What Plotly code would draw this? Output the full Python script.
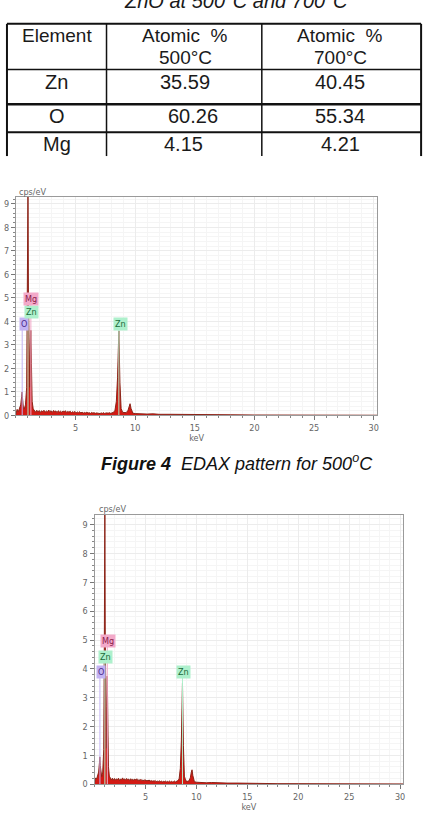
import plotly.graph_objects as go

W, H = 444, 828

def px(x):
    return x / W

def py(y):
    return 1 - y / H

# ---------------- data ----------------
table_title = "ZnO at 500<sup>o</sup>C and 700<sup>o</sup>C"
headers_top = ["Element", "Atomic  %", "Atomic  %"]
headers_bottom = ["", "500°C", "700°C"]
elements = ["Zn", "O", "Mg"]
atomic_500 = ["35.59", "60.26", "4.15"]
atomic_700 = ["40.45", "55.34", "4.21"]

energy_keV = [0.00, 0.10, 0.20, 0.30, 0.40, 0.48, 0.52, 0.56, 0.62, 0.70, 0.80, 0.90, 0.96, 1.01, 1.05,
              1.10, 1.16, 1.20, 1.25, 1.30, 1.36, 1.45, 1.55, 1.65, 1.75, 1.85, 1.95, 2.05, 2.15, 2.25,
              2.35, 2.45, 2.55, 2.65, 2.75, 2.85, 2.95, 3.05, 3.15, 3.25, 3.35, 3.45, 3.55, 3.65, 3.75,
              3.85, 3.95, 4.05, 4.15, 4.25, 4.35, 4.45, 4.55, 4.65, 4.75, 4.85, 4.95, 5.05, 5.15, 5.25,
              5.35, 5.45, 5.55, 5.65, 5.75, 5.85, 5.95, 6.05, 6.15, 6.25, 6.35, 6.45, 6.55, 6.65, 6.75,
              6.85, 6.95, 7.05, 7.15, 7.25, 7.35, 7.45, 7.55, 7.65, 7.75, 7.85, 7.95, 8.05, 8.15, 8.30,
              8.42, 8.52, 8.63, 8.72, 8.82, 8.95, 9.10, 9.25, 9.40, 9.50, 9.57, 9.65, 9.80, 10.0, 10.3,
              10.6, 11.0, 11.5, 12.0, 13.0, 14.0, 15.0, 16.0, 18.0, 20.0, 22.0, 25.0, 28.0, 30.3]

counts_500 = [0.05, 0.26, 0.16, 0.30, 0.45, 0.80, 1.00, 0.70, 0.35, 0.28, 0.45, 1.20, 5.00, 9.60, 5.00,
              1.40, 1.20, 2.60, 3.62, 2.20, 0.60, 0.28, 0.20, 0.14, 0.22, 0.15, 0.21, 0.13, 0.20, 0.16,
              0.22, 0.14, 0.19, 0.15, 0.23, 0.16, 0.20, 0.13, 0.21, 0.17, 0.19, 0.12, 0.20, 0.15, 0.18,
              0.13, 0.19, 0.16, 0.20, 0.13, 0.17, 0.14, 0.18, 0.12, 0.16, 0.13, 0.17, 0.11, 0.15, 0.12,
              0.16, 0.11, 0.14, 0.10, 0.13, 0.11, 0.14, 0.10, 0.12, 0.09, 0.13, 0.10, 0.12, 0.09, 0.11,
              0.10, 0.12, 0.08, 0.11, 0.09, 0.12, 0.08, 0.11, 0.09, 0.10, 0.12, 0.09, 0.11, 0.13, 0.20,
              0.60, 1.60, 3.60, 1.40, 0.30, 0.13, 0.11, 0.12, 0.22, 0.40, 0.50, 0.30, 0.10, 0.08, 0.07,
              0.08, 0.06, 0.07, 0.05, 0.05, 0.04, 0.04, 0.03, 0.03, 0.02, 0.02, 0.01, 0.01, 0.01]

counts_700 = [0.05, 0.22, 0.18, 0.28, 0.42, 0.75, 0.95, 0.65, 0.33, 0.26, 0.42, 1.20, 5.10, 9.70, 5.10,
              1.40, 1.25, 2.70, 3.75, 2.30, 0.62, 0.28, 0.19, 0.15, 0.21, 0.14, 0.20, 0.14, 0.19, 0.15,
              0.21, 0.13, 0.18, 0.16, 0.22, 0.15, 0.19, 0.14, 0.20, 0.16, 0.18, 0.13, 0.19, 0.14, 0.17,
              0.14, 0.18, 0.15, 0.19, 0.12, 0.16, 0.13, 0.17, 0.12, 0.15, 0.12, 0.16, 0.11, 0.14, 0.11,
              0.15, 0.10, 0.13, 0.10, 0.12, 0.10, 0.13, 0.09, 0.11, 0.09, 0.12, 0.09, 0.11, 0.08, 0.10,
              0.09, 0.11, 0.08, 0.10, 0.08, 0.11, 0.08, 0.10, 0.08, 0.09, 0.11, 0.08, 0.10, 0.12, 0.18,
              0.55, 1.50, 3.50, 1.35, 0.28, 0.12, 0.10, 0.11, 0.22, 0.42, 0.50, 0.30, 0.09, 0.07, 0.06,
              0.07, 0.05, 0.06, 0.05, 0.04, 0.04, 0.03, 0.03, 0.02, 0.02, 0.02, 0.01, 0.01, 0.01]

# element markers: name, line energy (keV), label height (cps/eV)
marker_names = ["O", "Zn", "Mg", "Zn"]
marker_energy = [0.525, 1.012, 1.254, 8.630]
marker_height = [3.9, 4.4, 4.95, 3.9]
marker_label_x_500 = [0.25, 0.65, 0.60, 8.10]
marker_label_x_700 = [0.15, 0.30, 0.55, 7.95]

elem_text = {"O": "#4a2a8a", "Zn": "#1a6a3a", "Mg": "#8b1a4a"}
elem_bg = {"O": "#c3b3f3", "Zn": "#aef0cc", "Mg": "#f3a9c9"}

caption = "<b><i>Figure 4</i></b>  <i>EDAX pattern for 500<sup>o</sup>C</i>"

# ---------------- figure ----------------
fig = go.Figure()

spectra = [(counts_500, "x", "y", marker_label_x_500), (counts_700, "x2", "y2", marker_label_x_700)]
annotations = []
small_font = "DejaVu Sans Condensed, DejaVu Sans"
for counts, xa, ya, lab_x in spectra:
    fig.add_trace(go.Scatter(x=energy_keV, y=counts, mode="lines", fill="tozeroy",
                             line=dict(color="#8a2418", width=1), fillcolor="#d21a14",
                             xaxis=xa, yaxis=ya, showlegend=False, hoverinfo="skip"))
    for n, e, h, lx in zip(marker_names, marker_energy, marker_height, lab_x):
        fig.add_trace(go.Scatter(x=[e, e], y=[0, h], mode="lines",
                                 line=dict(color=elem_bg[n], width=1),
                                 xaxis=xa, yaxis=ya, showlegend=False, hoverinfo="skip"))
        annotations.append(dict(x=lx, y=h, xref=xa, yref=ya, text=n, showarrow=False,
                                xanchor="left", yanchor="middle",
                                font=dict(family=small_font, size=9, color=elem_text[n]),
                                bgcolor=elem_bg[n], borderpad=1))

axis_common = dict(showline=True, linecolor="#9a9a9a", linewidth=1, mirror=True,
                   ticks="outside", ticklen=4, tickcolor="#777",
                   tickfont=dict(family=small_font, size=9, color="#666"),
                   showgrid=True, gridcolor="#ececec", gridwidth=1, zeroline=False)

def xminor():
    return dict(dtick=1, ticks="outside", ticklen=2, tickcolor="#888", showgrid=True, gridcolor="#f5f5f5")

def yminor():
    return dict(dtick=0.2, ticks="outside", ticklen=2, tickcolor="#888", showgrid=True, gridcolor="#f5f5f5")

fig.update_layout(
    width=W, height=H, margin=dict(l=0, r=0, t=0, b=0),
    paper_bgcolor="white", plot_bgcolor="white",
    xaxis=dict(domain=[px(16), px(379)], range=[0, 30.3], anchor="y",
               tickvals=[5, 10, 15, 20, 25, 30], minor=xminor(),
               title=dict(text="keV", font=dict(family=small_font, size=9, color="#666"), standoff=2),
               **axis_common),
    yaxis=dict(domain=[py(418), py(198)], range=[0, 9.3], anchor="x", dtick=1, minor=yminor(),
               **axis_common),
    xaxis2=dict(domain=[px(95), px(405)], range=[0, 30.3], anchor="y2",
                tickvals=[5, 10, 15, 20, 25, 30], minor=xminor(),
                title=dict(text="keV", font=dict(family=small_font, size=9, color="#666"), standoff=2),
                **axis_common),
    yaxis2=dict(domain=[py(789), py(518)], range=[0, 9.34], anchor="x2", dtick=1, minor=yminor(),
                **axis_common),
)

# "cps/eV" labels
for xx, yy in [(17, 193), (97, 512)]:
    annotations.append(dict(x=px(xx), y=py(yy), xref="paper", yref="paper", text="cps/eV",
                            showarrow=False, xanchor="left", yanchor="middle",
                            font=dict(family=small_font, size=9, color="#666")))

# ---------------- table ----------------
tfont = dict(family="Liberation Sans, Arial", size=20, color="#1a1a1a")
annotations.append(dict(x=px(237), y=py(-1), xref="paper", yref="paper", text="<i>" + table_title + "</i>",
                        showarrow=False, xanchor="center", yanchor="middle", font=tfont))

col_x = [57, 186, 342]
for i, cx in enumerate(col_x):
    annotations.append(dict(x=px(cx), y=py(36), xref="paper", yref="paper", text=headers_top[i],
                            showarrow=False, xanchor="center", yanchor="middle",
                            font=dict(family="Liberation Sans, Arial", size=19, color="#1a1a1a")))
    if headers_bottom[i]:
        annotations.append(dict(x=px(cx), y=py(58), xref="paper", yref="paper", text=headers_bottom[i],
                                showarrow=False, xanchor="center", yanchor="middle",
                                font=dict(family="Liberation Sans, Arial", size=19, color="#1a1a1a")))
row_y = [82, 117, 145]
row_x_shift = [0, 8, -2]
for i, ry in enumerate(row_y):
    annotations.append(dict(x=px(col_x[0]), y=py(ry), xref="paper", yref="paper", text=elements[i],
                            showarrow=False, xanchor="center", yanchor="middle", font=tfont))
    annotations.append(dict(x=px(col_x[1] + row_x_shift[i]), y=py(ry), xref="paper", yref="paper",
                            text=atomic_500[i], showarrow=False, xanchor="center", yanchor="middle", font=tfont))
    annotations.append(dict(x=px(col_x[2]), y=py(ry), xref="paper", yref="paper", text=atomic_700[i],
                            showarrow=False, xanchor="center", yanchor="middle", font=tfont))

shapes = []
for yy, wdt in [(24, 2), (70, 1.5), (105, 2.5), (133, 2)]:
    shapes.append(dict(type="line", xref="paper", yref="paper", x0=px(7), x1=px(423), y0=py(yy), y1=py(yy),
                       line=dict(color="#111", width=wdt)))
for xx, wdt in [(7, 2), (107, 1.5), (263, 1.5), (423, 2)]:
    shapes.append(dict(type="line", xref="paper", yref="paper", x0=px(xx), x1=px(xx), y0=py(24), y1=py(157),
                       line=dict(color="#111", width=wdt)))

# caption
annotations.append(dict(x=px(238), y=py(465), xref="paper", yref="paper", text=caption,
                        showarrow=False, xanchor="center", yanchor="middle",
                        font=dict(family="Liberation Sans, Arial", size=18, color="#111")))

fig.update_layout(annotations=annotations, shapes=shapes)
fig.write_html("out.html")
